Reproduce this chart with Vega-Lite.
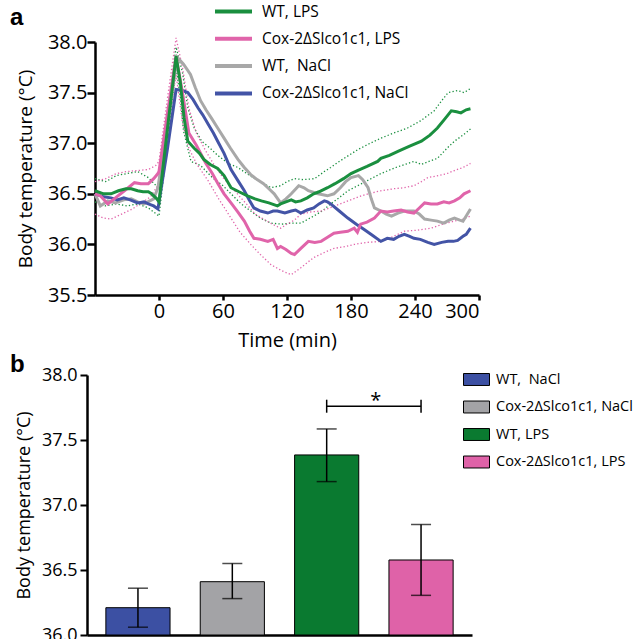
{
  "$schema": "https://vega.github.io/schema/vega-lite/v6.json",
  "padding": {"left": 10, "top": 0, "right": 0, "bottom": 0},
  "background": "white",
  "config": {
    "font": "Open Sans",
    "view": {"stroke": null},
    "axis": {"domainColor": "black", "tickColor": "black", "labelColor": "black", "titleColor": "black", "grid": false, "labelFont": "Open Sans", "titleFont": "Open Sans", "titleFontWeight": "normal"},
    "legend": {"labelFont": "Open Sans", "labelColor": "black", "padding": 0}
  },
  "datasets": {
    "mean": [
      {"series": "WT,\u00a0 NaCl", "t": -60, "v": 36.50}, {"series": "WT,\u00a0 NaCl", "t": -55, "v": 36.38}, {"series": "WT,\u00a0 NaCl", "t": -48, "v": 36.43}, {"series": "WT,\u00a0 NaCl", "t": -41, "v": 36.41}, {"series": "WT,\u00a0 NaCl", "t": -33, "v": 36.44}, {"series": "WT,\u00a0 NaCl", "t": -26, "v": 36.45}, {"series": "WT,\u00a0 NaCl", "t": -20, "v": 36.42}, {"series": "WT,\u00a0 NaCl", "t": -14, "v": 36.40}, {"series": "WT,\u00a0 NaCl", "t": -5, "v": 36.45}, {"series": "WT,\u00a0 NaCl", "t": -1, "v": 36.56}, {"series": "WT,\u00a0 NaCl", "t": 17, "v": 37.85}, {"series": "WT,\u00a0 NaCl", "t": 23, "v": 37.78}, {"series": "WT,\u00a0 NaCl", "t": 29.5, "v": 37.68}, {"series": "WT,\u00a0 NaCl", "t": 34, "v": 37.55}, {"series": "WT,\u00a0 NaCl", "t": 39, "v": 37.42}, {"series": "WT,\u00a0 NaCl", "t": 44, "v": 37.33}, {"series": "WT,\u00a0 NaCl", "t": 49, "v": 37.25}, {"series": "WT,\u00a0 NaCl", "t": 55, "v": 37.15}, {"series": "WT,\u00a0 NaCl", "t": 61, "v": 37.05}, {"series": "WT,\u00a0 NaCl", "t": 67, "v": 36.95}, {"series": "WT,\u00a0 NaCl", "t": 74, "v": 36.84}, {"series": "WT,\u00a0 NaCl", "t": 80, "v": 36.76}, {"series": "WT,\u00a0 NaCl", "t": 86, "v": 36.69}, {"series": "WT,\u00a0 NaCl", "t": 92, "v": 36.64}, {"series": "WT,\u00a0 NaCl", "t": 98, "v": 36.60}, {"series": "WT,\u00a0 NaCl", "t": 103, "v": 36.55}, {"series": "WT,\u00a0 NaCl", "t": 108, "v": 36.50}, {"series": "WT,\u00a0 NaCl", "t": 114, "v": 36.41}, {"series": "WT,\u00a0 NaCl", "t": 119, "v": 36.45}, {"series": "WT,\u00a0 NaCl", "t": 124, "v": 36.50}, {"series": "WT,\u00a0 NaCl", "t": 131, "v": 36.58}, {"series": "WT,\u00a0 NaCl", "t": 136, "v": 36.56}, {"series": "WT,\u00a0 NaCl", "t": 140, "v": 36.53}, {"series": "WT,\u00a0 NaCl", "t": 149, "v": 36.50}, {"series": "WT,\u00a0 NaCl", "t": 158, "v": 36.48}, {"series": "WT,\u00a0 NaCl", "t": 164, "v": 36.50}, {"series": "WT,\u00a0 NaCl", "t": 170, "v": 36.56}, {"series": "WT,\u00a0 NaCl", "t": 175, "v": 36.62}, {"series": "WT,\u00a0 NaCl", "t": 180, "v": 36.66}, {"series": "WT,\u00a0 NaCl", "t": 187, "v": 36.68}, {"series": "WT,\u00a0 NaCl", "t": 191, "v": 36.64}, {"series": "WT,\u00a0 NaCl", "t": 196, "v": 36.56}, {"series": "WT,\u00a0 NaCl", "t": 199, "v": 36.45}, {"series": "WT,\u00a0 NaCl", "t": 202, "v": 36.36}, {"series": "WT,\u00a0 NaCl", "t": 208, "v": 36.33}, {"series": "WT,\u00a0 NaCl", "t": 213, "v": 36.30}, {"series": "WT,\u00a0 NaCl", "t": 218, "v": 36.28}, {"series": "WT,\u00a0 NaCl", "t": 224, "v": 36.31}, {"series": "WT,\u00a0 NaCl", "t": 230, "v": 36.33}, {"series": "WT,\u00a0 NaCl", "t": 239, "v": 36.33}, {"series": "WT,\u00a0 NaCl", "t": 244, "v": 36.30}, {"series": "WT,\u00a0 NaCl", "t": 249, "v": 36.25}, {"series": "WT,\u00a0 NaCl", "t": 255, "v": 36.24}, {"series": "WT,\u00a0 NaCl", "t": 261, "v": 36.23}, {"series": "WT,\u00a0 NaCl", "t": 267, "v": 36.21}, {"series": "WT,\u00a0 NaCl", "t": 272, "v": 36.24}, {"series": "WT,\u00a0 NaCl", "t": 277, "v": 36.26}, {"series": "WT,\u00a0 NaCl", "t": 282, "v": 36.24}, {"series": "WT,\u00a0 NaCl", "t": 285, "v": 36.23}, {"series": "WT,\u00a0 NaCl", "t": 288, "v": 36.28}, {"series": "WT,\u00a0 NaCl", "t": 292, "v": 36.35},

      {"series": "Cox-2ΔSlco1c1, NaCl", "t": -60, "v": 36.50}, {"series": "Cox-2ΔSlco1c1, NaCl", "t": -52, "v": 36.47}, {"series": "Cox-2ΔSlco1c1, NaCl", "t": -45, "v": 36.46}, {"series": "Cox-2ΔSlco1c1, NaCl", "t": -39, "v": 36.44}, {"series": "Cox-2ΔSlco1c1, NaCl", "t": -33, "v": 36.46}, {"series": "Cox-2ΔSlco1c1, NaCl", "t": -27, "v": 36.44}, {"series": "Cox-2ΔSlco1c1, NaCl", "t": -20, "v": 36.41}, {"series": "Cox-2ΔSlco1c1, NaCl", "t": -14, "v": 36.42}, {"series": "Cox-2ΔSlco1c1, NaCl", "t": -10, "v": 36.40}, {"series": "Cox-2ΔSlco1c1, NaCl", "t": -5, "v": 36.38}, {"series": "Cox-2ΔSlco1c1, NaCl", "t": -1, "v": 36.35}, {"series": "Cox-2ΔSlco1c1, NaCl", "t": 8, "v": 36.95}, {"series": "Cox-2ΔSlco1c1, NaCl", "t": 16, "v": 37.53}, {"series": "Cox-2ΔSlco1c1, NaCl", "t": 22, "v": 37.52}, {"series": "Cox-2ΔSlco1c1, NaCl", "t": 27, "v": 37.50}, {"series": "Cox-2ΔSlco1c1, NaCl", "t": 32, "v": 37.43}, {"series": "Cox-2ΔSlco1c1, NaCl", "t": 36.5, "v": 37.35}, {"series": "Cox-2ΔSlco1c1, NaCl", "t": 41, "v": 37.28}, {"series": "Cox-2ΔSlco1c1, NaCl", "t": 46, "v": 37.19}, {"series": "Cox-2ΔSlco1c1, NaCl", "t": 51, "v": 37.10}, {"series": "Cox-2ΔSlco1c1, NaCl", "t": 55, "v": 37.02}, {"series": "Cox-2ΔSlco1c1, NaCl", "t": 61, "v": 36.90}, {"series": "Cox-2ΔSlco1c1, NaCl", "t": 67.5, "v": 36.74}, {"series": "Cox-2ΔSlco1c1, NaCl", "t": 74, "v": 36.63}, {"series": "Cox-2ΔSlco1c1, NaCl", "t": 80, "v": 36.53}, {"series": "Cox-2ΔSlco1c1, NaCl", "t": 85, "v": 36.43}, {"series": "Cox-2ΔSlco1c1, NaCl", "t": 89, "v": 36.36}, {"series": "Cox-2ΔSlco1c1, NaCl", "t": 95, "v": 36.33}, {"series": "Cox-2ΔSlco1c1, NaCl", "t": 102, "v": 36.31}, {"series": "Cox-2ΔSlco1c1, NaCl", "t": 107, "v": 36.33}, {"series": "Cox-2ΔSlco1c1, NaCl", "t": 111, "v": 36.33}, {"series": "Cox-2ΔSlco1c1, NaCl", "t": 118, "v": 36.31}, {"series": "Cox-2ΔSlco1c1, NaCl", "t": 124, "v": 36.33}, {"series": "Cox-2ΔSlco1c1, NaCl", "t": 128, "v": 36.34}, {"series": "Cox-2ΔSlco1c1, NaCl", "t": 133, "v": 36.31}, {"series": "Cox-2ΔSlco1c1, NaCl", "t": 139, "v": 36.34}, {"series": "Cox-2ΔSlco1c1, NaCl", "t": 145, "v": 36.36}, {"series": "Cox-2ΔSlco1c1, NaCl", "t": 150, "v": 36.40}, {"series": "Cox-2ΔSlco1c1, NaCl", "t": 155, "v": 36.43}, {"series": "Cox-2ΔSlco1c1, NaCl", "t": 158, "v": 36.42}, {"series": "Cox-2ΔSlco1c1, NaCl", "t": 161, "v": 36.40}, {"series": "Cox-2ΔSlco1c1, NaCl", "t": 169, "v": 36.33}, {"series": "Cox-2ΔSlco1c1, NaCl", "t": 177, "v": 36.26}, {"series": "Cox-2ΔSlco1c1, NaCl", "t": 185, "v": 36.20}, {"series": "Cox-2ΔSlco1c1, NaCl", "t": 192, "v": 36.15}, {"series": "Cox-2ΔSlco1c1, NaCl", "t": 200, "v": 36.09}, {"series": "Cox-2ΔSlco1c1, NaCl", "t": 208, "v": 36.03}, {"series": "Cox-2ΔSlco1c1, NaCl", "t": 214, "v": 36.06}, {"series": "Cox-2ΔSlco1c1, NaCl", "t": 220, "v": 36.05}, {"series": "Cox-2ΔSlco1c1, NaCl", "t": 225, "v": 36.08}, {"series": "Cox-2ΔSlco1c1, NaCl", "t": 230, "v": 36.10}, {"series": "Cox-2ΔSlco1c1, NaCl", "t": 235, "v": 36.08}, {"series": "Cox-2ΔSlco1c1, NaCl", "t": 239, "v": 36.06}, {"series": "Cox-2ΔSlco1c1, NaCl", "t": 245, "v": 36.05}, {"series": "Cox-2ΔSlco1c1, NaCl", "t": 252, "v": 36.02}, {"series": "Cox-2ΔSlco1c1, NaCl", "t": 258, "v": 36.00}, {"series": "Cox-2ΔSlco1c1, NaCl", "t": 265, "v": 36.02}, {"series": "Cox-2ΔSlco1c1, NaCl", "t": 271, "v": 36.03}, {"series": "Cox-2ΔSlco1c1, NaCl", "t": 276, "v": 36.03}, {"series": "Cox-2ΔSlco1c1, NaCl", "t": 280, "v": 36.04}, {"series": "Cox-2ΔSlco1c1, NaCl", "t": 285, "v": 36.08}, {"series": "Cox-2ΔSlco1c1, NaCl", "t": 288, "v": 36.10}, {"series": "Cox-2ΔSlco1c1, NaCl", "t": 292, "v": 36.16},

      {"series": "Cox-2ΔSlco1c1, LPS", "t": -60, "v": 36.50}, {"series": "Cox-2ΔSlco1c1, LPS", "t": -55, "v": 36.48}, {"series": "Cox-2ΔSlco1c1, LPS", "t": -48, "v": 36.40}, {"series": "Cox-2ΔSlco1c1, LPS", "t": -42, "v": 36.45}, {"series": "Cox-2ΔSlco1c1, LPS", "t": -36, "v": 36.50}, {"series": "Cox-2ΔSlco1c1, LPS", "t": -30, "v": 36.55}, {"series": "Cox-2ΔSlco1c1, LPS", "t": -23, "v": 36.61}, {"series": "Cox-2ΔSlco1c1, LPS", "t": -17, "v": 36.60}, {"series": "Cox-2ΔSlco1c1, LPS", "t": -10, "v": 36.60}, {"series": "Cox-2ΔSlco1c1, LPS", "t": -5, "v": 36.65}, {"series": "Cox-2ΔSlco1c1, LPS", "t": -1, "v": 36.70}, {"series": "Cox-2ΔSlco1c1, LPS", "t": 0, "v": 36.72}, {"series": "Cox-2ΔSlco1c1, LPS", "t": 8, "v": 37.30}, {"series": "Cox-2ΔSlco1c1, LPS", "t": 16, "v": 37.86}, {"series": "Cox-2ΔSlco1c1, LPS", "t": 22, "v": 37.50}, {"series": "Cox-2ΔSlco1c1, LPS", "t": 28, "v": 37.10}, {"series": "Cox-2ΔSlco1c1, LPS", "t": 35, "v": 36.98}, {"series": "Cox-2ΔSlco1c1, LPS", "t": 44, "v": 36.80}, {"series": "Cox-2ΔSlco1c1, LPS", "t": 50, "v": 36.70}, {"series": "Cox-2ΔSlco1c1, LPS", "t": 55.3, "v": 36.60}, {"series": "Cox-2ΔSlco1c1, LPS", "t": 61, "v": 36.50}, {"series": "Cox-2ΔSlco1c1, LPS", "t": 67.5, "v": 36.41}, {"series": "Cox-2ΔSlco1c1, LPS", "t": 74, "v": 36.32}, {"series": "Cox-2ΔSlco1c1, LPS", "t": 80, "v": 36.23}, {"series": "Cox-2ΔSlco1c1, LPS", "t": 85, "v": 36.13}, {"series": "Cox-2ΔSlco1c1, LPS", "t": 89, "v": 36.06}, {"series": "Cox-2ΔSlco1c1, LPS", "t": 95, "v": 36.05}, {"series": "Cox-2ΔSlco1c1, LPS", "t": 102, "v": 36.03}, {"series": "Cox-2ΔSlco1c1, LPS", "t": 107, "v": 36.05}, {"series": "Cox-2ΔSlco1c1, LPS", "t": 111, "v": 35.96}, {"series": "Cox-2ΔSlco1c1, LPS", "t": 114, "v": 35.98}, {"series": "Cox-2ΔSlco1c1, LPS", "t": 119, "v": 35.95}, {"series": "Cox-2ΔSlco1c1, LPS", "t": 124, "v": 35.91}, {"series": "Cox-2ΔSlco1c1, LPS", "t": 127, "v": 35.90}, {"series": "Cox-2ΔSlco1c1, LPS", "t": 133, "v": 35.96}, {"series": "Cox-2ΔSlco1c1, LPS", "t": 140, "v": 36.03}, {"series": "Cox-2ΔSlco1c1, LPS", "t": 146, "v": 36.02}, {"series": "Cox-2ΔSlco1c1, LPS", "t": 152, "v": 36.03}, {"series": "Cox-2ΔSlco1c1, LPS", "t": 158, "v": 36.07}, {"series": "Cox-2ΔSlco1c1, LPS", "t": 164, "v": 36.11}, {"series": "Cox-2ΔSlco1c1, LPS", "t": 170, "v": 36.12}, {"series": "Cox-2ΔSlco1c1, LPS", "t": 177, "v": 36.13}, {"series": "Cox-2ΔSlco1c1, LPS", "t": 183, "v": 36.16}, {"series": "Cox-2ΔSlco1c1, LPS", "t": 186, "v": 36.12}, {"series": "Cox-2ΔSlco1c1, LPS", "t": 189, "v": 36.20}, {"series": "Cox-2ΔSlco1c1, LPS", "t": 195, "v": 36.22}, {"series": "Cox-2ΔSlco1c1, LPS", "t": 202, "v": 36.26}, {"series": "Cox-2ΔSlco1c1, LPS", "t": 208, "v": 36.33}, {"series": "Cox-2ΔSlco1c1, LPS", "t": 214, "v": 36.32}, {"series": "Cox-2ΔSlco1c1, LPS", "t": 220, "v": 36.33}, {"series": "Cox-2ΔSlco1c1, LPS", "t": 227, "v": 36.34}, {"series": "Cox-2ΔSlco1c1, LPS", "t": 233, "v": 36.32}, {"series": "Cox-2ΔSlco1c1, LPS", "t": 239, "v": 36.31}, {"series": "Cox-2ΔSlco1c1, LPS", "t": 244, "v": 36.36}, {"series": "Cox-2ΔSlco1c1, LPS", "t": 249, "v": 36.41}, {"series": "Cox-2ΔSlco1c1, LPS", "t": 255, "v": 36.40}, {"series": "Cox-2ΔSlco1c1, LPS", "t": 261, "v": 36.40}, {"series": "Cox-2ΔSlco1c1, LPS", "t": 267, "v": 36.42}, {"series": "Cox-2ΔSlco1c1, LPS", "t": 272, "v": 36.41}, {"series": "Cox-2ΔSlco1c1, LPS", "t": 277, "v": 36.43}, {"series": "Cox-2ΔSlco1c1, LPS", "t": 282, "v": 36.46}, {"series": "Cox-2ΔSlco1c1, LPS", "t": 286, "v": 36.50}, {"series": "Cox-2ΔSlco1c1, LPS", "t": 292, "v": 36.53},

      {"series": "WT, LPS", "t": -60, "v": 36.53}, {"series": "WT, LPS", "t": -52, "v": 36.50}, {"series": "WT, LPS", "t": -45, "v": 36.50}, {"series": "WT, LPS", "t": -38, "v": 36.53}, {"series": "WT, LPS", "t": -31, "v": 36.55}, {"series": "WT, LPS", "t": -26, "v": 36.55}, {"series": "WT, LPS", "t": -20, "v": 36.53}, {"series": "WT, LPS", "t": -15, "v": 36.52}, {"series": "WT, LPS", "t": -10, "v": 36.52}, {"series": "WT, LPS", "t": -7, "v": 36.50}, {"series": "WT, LPS", "t": -2, "v": 36.45}, {"series": "WT, LPS", "t": 0, "v": 36.42}, {"series": "WT, LPS", "t": 8, "v": 37.15}, {"series": "WT, LPS", "t": 16, "v": 37.86}, {"series": "WT, LPS", "t": 20, "v": 37.60}, {"series": "WT, LPS", "t": 23.5, "v": 37.25}, {"series": "WT, LPS", "t": 27, "v": 37.02}, {"series": "WT, LPS", "t": 33, "v": 36.95}, {"series": "WT, LPS", "t": 38, "v": 36.90}, {"series": "WT, LPS", "t": 42, "v": 36.84}, {"series": "WT, LPS", "t": 48, "v": 36.79}, {"series": "WT, LPS", "t": 55, "v": 36.75}, {"series": "WT, LPS", "t": 61, "v": 36.68}, {"series": "WT, LPS", "t": 67.5, "v": 36.56}, {"series": "WT, LPS", "t": 75, "v": 36.52}, {"series": "WT, LPS", "t": 83, "v": 36.48}, {"series": "WT, LPS", "t": 90, "v": 36.45}, {"series": "WT, LPS", "t": 96, "v": 36.43}, {"series": "WT, LPS", "t": 103, "v": 36.41}, {"series": "WT, LPS", "t": 111, "v": 36.38}, {"series": "WT, LPS", "t": 114, "v": 36.40}, {"series": "WT, LPS", "t": 119, "v": 36.42}, {"series": "WT, LPS", "t": 124, "v": 36.44}, {"series": "WT, LPS", "t": 128, "v": 36.42}, {"series": "WT, LPS", "t": 133, "v": 36.43}, {"series": "WT, LPS", "t": 139, "v": 36.46}, {"series": "WT, LPS", "t": 145, "v": 36.50}, {"series": "WT, LPS", "t": 150, "v": 36.52}, {"series": "WT, LPS", "t": 158, "v": 36.56}, {"series": "WT, LPS", "t": 165, "v": 36.60}, {"series": "WT, LPS", "t": 173, "v": 36.65}, {"series": "WT, LPS", "t": 180, "v": 36.70}, {"series": "WT, LPS", "t": 186, "v": 36.73}, {"series": "WT, LPS", "t": 195, "v": 36.77}, {"series": "WT, LPS", "t": 205, "v": 36.82}, {"series": "WT, LPS", "t": 208, "v": 36.85}, {"series": "WT, LPS", "t": 216, "v": 36.88}, {"series": "WT, LPS", "t": 224, "v": 36.92}, {"series": "WT, LPS", "t": 235, "v": 36.97}, {"series": "WT, LPS", "t": 246, "v": 37.02}, {"series": "WT, LPS", "t": 254, "v": 37.08}, {"series": "WT, LPS", "t": 261, "v": 37.15}, {"series": "WT, LPS", "t": 268, "v": 37.24}, {"series": "WT, LPS", "t": 274, "v": 37.32}, {"series": "WT, LPS", "t": 279, "v": 37.31}, {"series": "WT, LPS", "t": 283, "v": 37.30}, {"series": "WT, LPS", "t": 288, "v": 37.33}, {"series": "WT, LPS", "t": 292, "v": 37.34}
    ],
    "sem": [
      {"series": "WT, LPS", "bound": "upper", "t": -60, "v": 36.65}, {"series": "WT, LPS", "bound": "upper", "t": -50, "v": 36.62}, {"series": "WT, LPS", "bound": "upper", "t": -40, "v": 36.68}, {"series": "WT, LPS", "bound": "upper", "t": -30, "v": 36.70}, {"series": "WT, LPS", "bound": "upper", "t": -20, "v": 36.72}, {"series": "WT, LPS", "bound": "upper", "t": -10, "v": 36.66}, {"series": "WT, LPS", "bound": "upper", "t": 0, "v": 36.55}, {"series": "WT, LPS", "bound": "upper", "t": 8, "v": 37.30}, {"series": "WT, LPS", "bound": "upper", "t": 16, "v": 37.95}, {"series": "WT, LPS", "bound": "upper", "t": 22, "v": 37.70}, {"series": "WT, LPS", "bound": "upper", "t": 27, "v": 37.35}, {"series": "WT, LPS", "bound": "upper", "t": 33, "v": 37.15}, {"series": "WT, LPS", "bound": "upper", "t": 40, "v": 37.02}, {"series": "WT, LPS", "bound": "upper", "t": 48, "v": 36.95}, {"series": "WT, LPS", "bound": "upper", "t": 55, "v": 36.88}, {"series": "WT, LPS", "bound": "upper", "t": 65, "v": 36.80}, {"series": "WT, LPS", "bound": "upper", "t": 74, "v": 36.76}, {"series": "WT, LPS", "bound": "upper", "t": 85, "v": 36.68}, {"series": "WT, LPS", "bound": "upper", "t": 95, "v": 36.62}, {"series": "WT, LPS", "bound": "upper", "t": 105, "v": 36.56}, {"series": "WT, LPS", "bound": "upper", "t": 114, "v": 36.58}, {"series": "WT, LPS", "bound": "upper", "t": 120, "v": 36.62}, {"series": "WT, LPS", "bound": "upper", "t": 127, "v": 36.65}, {"series": "WT, LPS", "bound": "upper", "t": 135, "v": 36.64}, {"series": "WT, LPS", "bound": "upper", "t": 146, "v": 36.65}, {"series": "WT, LPS", "bound": "upper", "t": 155, "v": 36.72}, {"series": "WT, LPS", "bound": "upper", "t": 161, "v": 36.76}, {"series": "WT, LPS", "bound": "upper", "t": 169, "v": 36.82}, {"series": "WT, LPS", "bound": "upper", "t": 178, "v": 36.88}, {"series": "WT, LPS", "bound": "upper", "t": 187, "v": 36.94}, {"series": "WT, LPS", "bound": "upper", "t": 198, "v": 37.00}, {"series": "WT, LPS", "bound": "upper", "t": 208, "v": 37.05}, {"series": "WT, LPS", "bound": "upper", "t": 220, "v": 37.10}, {"series": "WT, LPS", "bound": "upper", "t": 233, "v": 37.15}, {"series": "WT, LPS", "bound": "upper", "t": 245, "v": 37.22}, {"series": "WT, LPS", "bound": "upper", "t": 258, "v": 37.32}, {"series": "WT, LPS", "bound": "upper", "t": 265, "v": 37.42}, {"series": "WT, LPS", "bound": "upper", "t": 271, "v": 37.50}, {"series": "WT, LPS", "bound": "upper", "t": 280, "v": 37.52}, {"series": "WT, LPS", "bound": "upper", "t": 286, "v": 37.50}, {"series": "WT, LPS", "bound": "upper", "t": 292, "v": 37.54},
      {"series": "WT, LPS", "bound": "lower", "t": -60, "v": 36.42}, {"series": "WT, LPS", "bound": "lower", "t": -50, "v": 36.38}, {"series": "WT, LPS", "bound": "lower", "t": -40, "v": 36.40}, {"series": "WT, LPS", "bound": "lower", "t": -30, "v": 36.38}, {"series": "WT, LPS", "bound": "lower", "t": -20, "v": 36.40}, {"series": "WT, LPS", "bound": "lower", "t": -10, "v": 36.36}, {"series": "WT, LPS", "bound": "lower", "t": 0, "v": 36.28}, {"series": "WT, LPS", "bound": "lower", "t": 8, "v": 37.00}, {"series": "WT, LPS", "bound": "lower", "t": 16, "v": 37.75}, {"series": "WT, LPS", "bound": "lower", "t": 20, "v": 37.45}, {"series": "WT, LPS", "bound": "lower", "t": 23, "v": 37.12}, {"series": "WT, LPS", "bound": "lower", "t": 30, "v": 36.82}, {"series": "WT, LPS", "bound": "lower", "t": 39, "v": 36.78}, {"series": "WT, LPS", "bound": "lower", "t": 50, "v": 36.66}, {"series": "WT, LPS", "bound": "lower", "t": 60, "v": 36.58}, {"series": "WT, LPS", "bound": "lower", "t": 67.5, "v": 36.50}, {"series": "WT, LPS", "bound": "lower", "t": 77, "v": 36.40}, {"series": "WT, LPS", "bound": "lower", "t": 86, "v": 36.33}, {"series": "WT, LPS", "bound": "lower", "t": 95, "v": 36.26}, {"series": "WT, LPS", "bound": "lower", "t": 105, "v": 36.21}, {"series": "WT, LPS", "bound": "lower", "t": 115, "v": 36.20}, {"series": "WT, LPS", "bound": "lower", "t": 124, "v": 36.21}, {"series": "WT, LPS", "bound": "lower", "t": 133, "v": 36.21}, {"series": "WT, LPS", "bound": "lower", "t": 145, "v": 36.28}, {"series": "WT, LPS", "bound": "lower", "t": 153, "v": 36.33}, {"series": "WT, LPS", "bound": "lower", "t": 161, "v": 36.40}, {"series": "WT, LPS", "bound": "lower", "t": 170, "v": 36.47}, {"series": "WT, LPS", "bound": "lower", "t": 177, "v": 36.53}, {"series": "WT, LPS", "bound": "lower", "t": 190, "v": 36.60}, {"series": "WT, LPS", "bound": "lower", "t": 208, "v": 36.70}, {"series": "WT, LPS", "bound": "lower", "t": 222, "v": 36.76}, {"series": "WT, LPS", "bound": "lower", "t": 239, "v": 36.82}, {"series": "WT, LPS", "bound": "lower", "t": 246, "v": 36.79}, {"series": "WT, LPS", "bound": "lower", "t": 253, "v": 36.82}, {"series": "WT, LPS", "bound": "lower", "t": 261, "v": 36.85}, {"series": "WT, LPS", "bound": "lower", "t": 270, "v": 36.95}, {"series": "WT, LPS", "bound": "lower", "t": 277, "v": 37.02}, {"series": "WT, LPS", "bound": "lower", "t": 285, "v": 37.08}, {"series": "WT, LPS", "bound": "lower", "t": 292, "v": 37.14},
      {"series": "Cox-2ΔSlco1c1, LPS", "bound": "upper", "t": -60, "v": 36.62}, {"series": "Cox-2ΔSlco1c1, LPS", "bound": "upper", "t": -50, "v": 36.65}, {"series": "Cox-2ΔSlco1c1, LPS", "bound": "upper", "t": -40, "v": 36.70}, {"series": "Cox-2ΔSlco1c1, LPS", "bound": "upper", "t": -30, "v": 36.72}, {"series": "Cox-2ΔSlco1c1, LPS", "bound": "upper", "t": -20, "v": 36.73}, {"series": "Cox-2ΔSlco1c1, LPS", "bound": "upper", "t": -10, "v": 36.74}, {"series": "Cox-2ΔSlco1c1, LPS", "bound": "upper", "t": -3, "v": 36.78}, {"series": "Cox-2ΔSlco1c1, LPS", "bound": "upper", "t": 0, "v": 36.82}, {"series": "Cox-2ΔSlco1c1, LPS", "bound": "upper", "t": 8, "v": 37.45}, {"series": "Cox-2ΔSlco1c1, LPS", "bound": "upper", "t": 16, "v": 38.04}, {"series": "Cox-2ΔSlco1c1, LPS", "bound": "upper", "t": 22, "v": 37.75}, {"series": "Cox-2ΔSlco1c1, LPS", "bound": "upper", "t": 28, "v": 37.35}, {"series": "Cox-2ΔSlco1c1, LPS", "bound": "upper", "t": 35, "v": 37.10}, {"series": "Cox-2ΔSlco1c1, LPS", "bound": "upper", "t": 44, "v": 36.92}, {"series": "Cox-2ΔSlco1c1, LPS", "bound": "upper", "t": 52, "v": 36.78}, {"series": "Cox-2ΔSlco1c1, LPS", "bound": "upper", "t": 60, "v": 36.66}, {"series": "Cox-2ΔSlco1c1, LPS", "bound": "upper", "t": 67, "v": 36.58}, {"series": "Cox-2ΔSlco1c1, LPS", "bound": "upper", "t": 75, "v": 36.48}, {"series": "Cox-2ΔSlco1c1, LPS", "bound": "upper", "t": 82, "v": 36.40}, {"series": "Cox-2ΔSlco1c1, LPS", "bound": "upper", "t": 90, "v": 36.30}, {"series": "Cox-2ΔSlco1c1, LPS", "bound": "upper", "t": 98, "v": 36.25}, {"series": "Cox-2ΔSlco1c1, LPS", "bound": "upper", "t": 106, "v": 36.20}, {"series": "Cox-2ΔSlco1c1, LPS", "bound": "upper", "t": 114, "v": 36.16}, {"series": "Cox-2ΔSlco1c1, LPS", "bound": "upper", "t": 120, "v": 36.20}, {"series": "Cox-2ΔSlco1c1, LPS", "bound": "upper", "t": 127, "v": 36.24}, {"series": "Cox-2ΔSlco1c1, LPS", "bound": "upper", "t": 133, "v": 36.30}, {"series": "Cox-2ΔSlco1c1, LPS", "bound": "upper", "t": 142, "v": 36.32}, {"series": "Cox-2ΔSlco1c1, LPS", "bound": "upper", "t": 152, "v": 36.33}, {"series": "Cox-2ΔSlco1c1, LPS", "bound": "upper", "t": 165, "v": 36.38}, {"series": "Cox-2ΔSlco1c1, LPS", "bound": "upper", "t": 177, "v": 36.43}, {"series": "Cox-2ΔSlco1c1, LPS", "bound": "upper", "t": 187, "v": 36.47}, {"series": "Cox-2ΔSlco1c1, LPS", "bound": "upper", "t": 196, "v": 36.50}, {"series": "Cox-2ΔSlco1c1, LPS", "bound": "upper", "t": 208, "v": 36.53}, {"series": "Cox-2ΔSlco1c1, LPS", "bound": "upper", "t": 220, "v": 36.55}, {"series": "Cox-2ΔSlco1c1, LPS", "bound": "upper", "t": 230, "v": 36.56}, {"series": "Cox-2ΔSlco1c1, LPS", "bound": "upper", "t": 239, "v": 36.58}, {"series": "Cox-2ΔSlco1c1, LPS", "bound": "upper", "t": 246, "v": 36.62}, {"series": "Cox-2ΔSlco1c1, LPS", "bound": "upper", "t": 252, "v": 36.66}, {"series": "Cox-2ΔSlco1c1, LPS", "bound": "upper", "t": 262, "v": 36.68}, {"series": "Cox-2ΔSlco1c1, LPS", "bound": "upper", "t": 270, "v": 36.70}, {"series": "Cox-2ΔSlco1c1, LPS", "bound": "upper", "t": 277, "v": 36.73}, {"series": "Cox-2ΔSlco1c1, LPS", "bound": "upper", "t": 285, "v": 36.76}, {"series": "Cox-2ΔSlco1c1, LPS", "bound": "upper", "t": 292, "v": 36.80},
      {"series": "Cox-2ΔSlco1c1, LPS", "bound": "lower", "t": -60, "v": 36.30}, {"series": "Cox-2ΔSlco1c1, LPS", "bound": "lower", "t": -52, "v": 36.26}, {"series": "Cox-2ΔSlco1c1, LPS", "bound": "lower", "t": -45, "v": 36.25}, {"series": "Cox-2ΔSlco1c1, LPS", "bound": "lower", "t": -35, "v": 36.30}, {"series": "Cox-2ΔSlco1c1, LPS", "bound": "lower", "t": -25, "v": 36.35}, {"series": "Cox-2ΔSlco1c1, LPS", "bound": "lower", "t": -15, "v": 36.42}, {"series": "Cox-2ΔSlco1c1, LPS", "bound": "lower", "t": -8, "v": 36.47}, {"series": "Cox-2ΔSlco1c1, LPS", "bound": "lower", "t": 0, "v": 36.60}, {"series": "Cox-2ΔSlco1c1, LPS", "bound": "lower", "t": 8, "v": 37.10}, {"series": "Cox-2ΔSlco1c1, LPS", "bound": "lower", "t": 16, "v": 37.68}, {"series": "Cox-2ΔSlco1c1, LPS", "bound": "lower", "t": 22, "v": 37.20}, {"series": "Cox-2ΔSlco1c1, LPS", "bound": "lower", "t": 28, "v": 36.95}, {"series": "Cox-2ΔSlco1c1, LPS", "bound": "lower", "t": 35, "v": 36.80}, {"series": "Cox-2ΔSlco1c1, LPS", "bound": "lower", "t": 46, "v": 36.63}, {"series": "Cox-2ΔSlco1c1, LPS", "bound": "lower", "t": 56, "v": 36.45}, {"series": "Cox-2ΔSlco1c1, LPS", "bound": "lower", "t": 67.5, "v": 36.26}, {"series": "Cox-2ΔSlco1c1, LPS", "bound": "lower", "t": 76, "v": 36.12}, {"series": "Cox-2ΔSlco1c1, LPS", "bound": "lower", "t": 86, "v": 36.00}, {"series": "Cox-2ΔSlco1c1, LPS", "bound": "lower", "t": 95, "v": 35.90}, {"series": "Cox-2ΔSlco1c1, LPS", "bound": "lower", "t": 105, "v": 35.80}, {"series": "Cox-2ΔSlco1c1, LPS", "bound": "lower", "t": 115, "v": 35.74}, {"series": "Cox-2ΔSlco1c1, LPS", "bound": "lower", "t": 124, "v": 35.70}, {"series": "Cox-2ΔSlco1c1, LPS", "bound": "lower", "t": 133, "v": 35.77}, {"series": "Cox-2ΔSlco1c1, LPS", "bound": "lower", "t": 145, "v": 35.87}, {"series": "Cox-2ΔSlco1c1, LPS", "bound": "lower", "t": 155, "v": 35.92}, {"series": "Cox-2ΔSlco1c1, LPS", "bound": "lower", "t": 164, "v": 35.96}, {"series": "Cox-2ΔSlco1c1, LPS", "bound": "lower", "t": 175, "v": 35.98}, {"series": "Cox-2ΔSlco1c1, LPS", "bound": "lower", "t": 183, "v": 36.00}, {"series": "Cox-2ΔSlco1c1, LPS", "bound": "lower", "t": 195, "v": 36.02}, {"series": "Cox-2ΔSlco1c1, LPS", "bound": "lower", "t": 208, "v": 36.03}, {"series": "Cox-2ΔSlco1c1, LPS", "bound": "lower", "t": 220, "v": 36.08}, {"series": "Cox-2ΔSlco1c1, LPS", "bound": "lower", "t": 230, "v": 36.13}, {"series": "Cox-2ΔSlco1c1, LPS", "bound": "lower", "t": 242, "v": 36.14}, {"series": "Cox-2ΔSlco1c1, LPS", "bound": "lower", "t": 255, "v": 36.16}, {"series": "Cox-2ΔSlco1c1, LPS", "bound": "lower", "t": 266, "v": 36.20}, {"series": "Cox-2ΔSlco1c1, LPS", "bound": "lower", "t": 277, "v": 36.23}, {"series": "Cox-2ΔSlco1c1, LPS", "bound": "lower", "t": 285, "v": 36.25}, {"series": "Cox-2ΔSlco1c1, LPS", "bound": "lower", "t": 292, "v": 36.28}
    ],
    "bars": [
      {"group": "WT,\u00a0 NaCl", "mean": 36.21, "lo": 36.06, "hi": 36.36},
      {"group": "Cox-2ΔSlco1c1, NaCl", "mean": 36.41, "lo": 36.28, "hi": 36.55},
      {"group": "WT, LPS", "mean": 37.385, "lo": 37.18, "hi": 37.585},
      {"group": "Cox-2ΔSlco1c1, LPS", "mean": 36.577, "lo": 36.305, "hi": 36.85}
    ],
    "sig_h": [
      {"from": "WT, LPS", "to": "Cox-2ΔSlco1c1, LPS", "y": 37.76}
    ],
    "sig_v": [
      {"group": "WT, LPS", "y": 37.71, "y2": 37.81},
      {"group": "Cox-2ΔSlco1c1, LPS", "y": 37.71, "y2": 37.81}
    ],
    "star": [
      {"group": "WT, LPS", "y": 37.755, "label": "*"}
    ]
  },
  "vconcat": [
    {
      "width": 384,
      "height": 253,
      "title": {"text": "a", "anchor": "start", "frame": "group", "dx": -85, "offset": -30, "font": "Liberation Sans", "fontSize": 24, "fontWeight": "bold", "color": "black"},
      "layer": [
        {
          "data": {"name": "sem"},
          "mark": {"type": "line", "strokeWidth": 1.3, "strokeDash": [1.3, 2.2]},
          "encoding": {
            "x": {"field": "t", "type": "quantitative"},
            "y": {"field": "v", "type": "quantitative"},
            "color": {"field": "series", "type": "nominal"},
            "detail": {"field": "bound", "type": "nominal"}
          }
        },
        {
          "data": {"name": "mean"},
          "mark": {"type": "line", "strokeWidth": 3},
          "encoding": {
            "x": {"field": "t", "type": "quantitative", "scale": {"domain": [-60, 300], "nice": false},
              "axis": {"values": [0, 60, 120, 180, 240, 300], "title": "Time (min)", "titleFontSize": 20, "labelFontSize": 20, "tickSize": 5, "tickWidth": 2.5, "domainWidth": 2.5, "labelPadding": 1, "titlePadding": 9}},
            "y": {"field": "v", "type": "quantitative", "scale": {"domain": [35.5, 38], "nice": false, "zero": false},
              "axis": {"values": [35.5, 36, 36.5, 37, 37.5, 38], "format": ".1f", "title": "Body temperature (°C)", "titleFontSize": 19, "labelFontSize": 20, "tickSize": 8, "tickWidth": 2.5, "domainWidth": 2.5, "labelPadding": 0, "titlePadding": 12}},
            "color": {"field": "series", "type": "nominal",
              "scale": {"domain": ["WT, LPS", "Cox-2ΔSlco1c1, LPS", "WT,\u00a0 NaCl", "Cox-2ΔSlco1c1, NaCl"], "range": ["#1a8f3f", "#e064aa", "#a8a8a8", "#4354a6"]},
              "legend": {"orient": "none", "legendX": 127, "legendY": -42, "title": null, "symbolType": "M-2,0H2", "symbolSize": 342, "symbolStrokeWidth": 4, "symbolDash": [1, 0], "labelFontSize": 15.5, "rowPadding": 7.3, "labelOffset": 17}}
          }
        }
      ]
    },
    {
      "width": 385,
      "height": 260,
      "title": {"text": "b", "anchor": "start", "frame": "group", "dx": -85, "offset": -11, "font": "Liberation Sans", "fontSize": 24, "fontWeight": "bold", "color": "black"},
      "layer": [
        {
          "data": {"name": "bars"},
          "mark": {"type": "bar", "stroke": "black", "strokeWidth": 1},
          "encoding": {
            "x": {"field": "group", "type": "nominal",
              "scale": {"domain": ["WT,\u00a0 NaCl", "Cox-2ΔSlco1c1, NaCl", "WT, LPS", "Cox-2ΔSlco1c1, LPS"], "range": [-8, 377], "paddingInner": 0.32, "paddingOuter": 0.2},
              "axis": {"title": null, "labels": false, "ticks": false, "domainWidth": 2.5}},
            "y": {"field": "mean", "type": "quantitative", "scale": {"domain": [36, 38], "nice": false, "zero": false},
              "axis": {"values": [36, 36.5, 37, 37.5, 38], "format": ".1f", "offset": 8, "title": "Body temperature (°C)", "titleFontSize": 18, "labelFontSize": 18, "tickSize": 7, "tickWidth": 2, "domainWidth": 2.5, "labelPadding": 3, "titlePadding": 8}},
            "y2": {"datum": 36},
            "color": {"field": "group", "type": "nominal",
              "scale": {"domain": ["WT,\u00a0 NaCl", "Cox-2ΔSlco1c1, NaCl", "WT, LPS", "Cox-2ΔSlco1c1, LPS"], "range": ["#3c50a3", "#a3a3a6", "#0a7a30", "#df62a8"]},
              "legend": {"orient": "none", "legendX": 368, "legendY": -9, "title": null, "symbolType": "M-1,-0.46H1V0.46H-1Z", "symbolSize": 676, "symbolStrokeColor": "black", "symbolStrokeWidth": 1, "symbolOpacity": 1, "labelFontSize": 14.5, "rowPadding": 5.5, "labelOffset": 6}}
          }
        },
        {
          "data": {"name": "bars"},
          "mark": {"type": "rule", "color": "black", "strokeWidth": 1.5},
          "encoding": {
            "x": {"field": "group", "type": "nominal"},
            "y": {"field": "lo", "type": "quantitative"},
            "y2": {"field": "hi"}
          }
        },
        {
          "data": {"name": "bars"},
          "mark": {"type": "tick", "color": "black", "thickness": 1.5, "size": 20, "orient": "horizontal"},
          "encoding": {
            "x": {"field": "group", "type": "nominal"},
            "y": {"field": "lo", "type": "quantitative"}
          }
        },
        {
          "data": {"name": "bars"},
          "mark": {"type": "tick", "color": "black", "thickness": 1.5, "size": 20, "orient": "horizontal"},
          "encoding": {
            "x": {"field": "group", "type": "nominal"},
            "y": {"field": "hi", "type": "quantitative"}
          }
        },
        {
          "data": {"name": "sig_h"},
          "mark": {"type": "rule", "color": "black", "strokeWidth": 1.5},
          "encoding": {
            "x": {"field": "from", "type": "nominal"},
            "x2": {"field": "to"},
            "y": {"field": "y", "type": "quantitative"}
          }
        },
        {
          "data": {"name": "sig_v"},
          "mark": {"type": "rule", "color": "black", "strokeWidth": 1.5},
          "encoding": {
            "x": {"field": "group", "type": "nominal"},
            "y": {"field": "y", "type": "quantitative"},
            "y2": {"field": "y2"}
          }
        },
        {
          "data": {"name": "star"},
          "mark": {"type": "text", "fontSize": 20, "dx": 49, "baseline": "alphabetic", "color": "black", "font": "Open Sans"},
          "encoding": {
            "x": {"field": "group", "type": "nominal"},
            "y": {"field": "y", "type": "quantitative"},
            "text": {"field": "label"}
          }
        }
      ]
    }
  ],
  "spacing": 3,
  "align": "none",
  "bounds": "full",
  "resolve": {"scale": {"color": "independent", "x": "independent", "y": "independent"}, "legend": {"color": "independent"}}
}
